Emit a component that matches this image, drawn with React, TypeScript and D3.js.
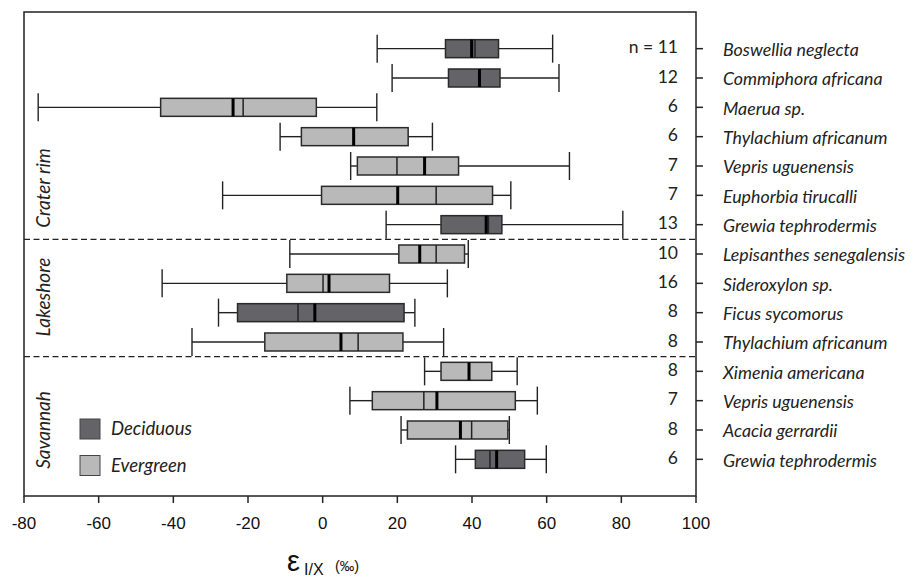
import React from "react";
import * as d3 from "d3";

const species = [
  "Boswellia neglecta",
  "Commiphora africana",
  "Maerua sp.",
  "Thylachium africanum",
  "Vepris uguenensis",
  "Euphorbia tirucalli",
  "Grewia tephrodermis",
  "Lepisanthes senegalensis",
  "Sideroxylon sp.",
  "Ficus sycomorus",
  "Thylachium africanum",
  "Ximenia americana",
  "Vepris uguenensis",
  "Acacia gerrardii",
  "Grewia tephrodermis",
];
const nLabels = ["n = 11", "12", "6", "6", "7", "7", "13", "10", "16", "8", "8", "8", "7", "8", "6"];
const habit = ["D", "D", "E", "E", "E", "E", "D", "E", "E", "D", "E", "E", "E", "E", "D"];
const whiskerLow = [14.6, 18.6, -76.2, -11.4, 7.5, -26.8, 17.0, -8.8, -43.0, -27.9, -35.0, 27.3, 7.3, 21.0, 35.6];
const q1 = [32.9, 33.7, -43.4, -5.7, 9.3, -0.3, 31.7, 20.4, -9.6, -22.8, -15.5, 31.7, 13.3, 22.7, 40.9];
const median = [39.9, 42.0, -24.0, 8.3, 27.3, 20.1, 43.8, 26.0, 1.7, -2.1, 4.9, 39.2, 30.6, 36.9, 46.6];
const mean = [40.8, 42.0, -21.3, 8.3, 19.9, 30.4, 44.4, 30.4, 0.1, -6.6, 9.5, 39.2, 27.1, 39.9, 44.8];
const q3 = [47.1, 47.5, -1.7, 22.9, 36.4, 45.5, 48.0, 38.0, 17.9, 21.8, 21.5, 45.3, 51.6, 49.6, 54.1];
const whiskerHigh = [61.6, 63.3, 14.5, 29.4, 66.1, 50.4, 80.4, 39.0, 33.4, 24.7, 32.4, 52.1, 57.5, 50.0, 59.9];
const groupNames = ["Crater rim", "Lakeshore", "Savannah"];
const groupSizes = [7, 4, 4];
const xTicks = [-80, -60, -40, -20, 0, 20, 40, 60, 80, 100];
const legendItems = [
  { key: "D", label: "Deciduous" },
  { key: "E", label: "Evergreen" },
];

const COLORS: Record<string, string> = { D: "#646468", E: "#b9b9b9" };
const LABEL_FONT = "Lato, 'Open Sans', sans-serif";
const AXIS_FONT = "'Liberation Sans', Arial, sans-serif";

export default function App() {
  const left = 24, right = 696, top = 12, bottom = 496;
  const x = d3.scaleLinear().domain([-80, 100]).range([left, right]);
  const y = d3
    .scaleBand<number>()
    .domain(species.map((_, i) => i))
    .range([34, 474])
    .padding(0);
  const bw = y.bandwidth();
  const cy = (i: number) => (y(i) as number) + bw / 2;
  const boxH = 18;
  const capH = 28;

  const boundaries: number[] = [];
  let acc = 0;
  groupSizes.forEach((s, gi) => {
    acc += s;
    if (gi < groupSizes.length - 1) boundaries.push(acc);
  });
  const groupLabelY = [188, 297, 430];

  return (
    <div style={{ position: "absolute", left: 0, top: 0 }}>
      <svg width={915} height={578} style={{ display: "block", background: "#fff" }}>
        {boundaries.map((b) => (
          <line
            key={b}
            x1={left}
            x2={right}
            y1={y(b) as number}
            y2={y(b) as number}
            stroke="#222"
            strokeWidth={1.3}
            strokeDasharray="6,3.5"
          />
        ))}
        {species.map((s, i) => {
          const c = cy(i);
          return (
            <g key={i}>
              <line x1={x(whiskerLow[i])} x2={x(q1[i])} y1={c} y2={c} stroke="#222" strokeWidth={1.4} />
              <line x1={x(q3[i])} x2={x(whiskerHigh[i])} y1={c} y2={c} stroke="#222" strokeWidth={1.4} />
              <line x1={x(whiskerLow[i])} x2={x(whiskerLow[i])} y1={c - capH / 2} y2={c + capH / 2} stroke="#222" strokeWidth={1.4} />
              <line x1={x(whiskerHigh[i])} x2={x(whiskerHigh[i])} y1={c - capH / 2} y2={c + capH / 2} stroke="#222" strokeWidth={1.4} />
              <rect
                x={x(q1[i])}
                y={c - boxH / 2}
                width={x(q3[i]) - x(q1[i])}
                height={boxH}
                fill={COLORS[habit[i]]}
                stroke="#2a2a2a"
                strokeWidth={1.5}
              />
              <line x1={x(mean[i])} x2={x(mean[i])} y1={c - boxH / 2} y2={c + boxH / 2} stroke="#222" strokeWidth={1.5} />
              <line x1={x(median[i])} x2={x(median[i])} y1={c - boxH / 2} y2={c + boxH / 2} stroke="#000" strokeWidth={3} />
              <text
                x={678}
                y={c + 4.8}
                textAnchor="end"
                fontFamily={LABEL_FONT}
                fontSize={17.5}
                fill="#222"
              >
                {nLabels[i]}
              </text>
              <line x1={right} x2={right + 7} y1={c} y2={c} stroke="#222" strokeWidth={1.5} />
              <text
                x={723}
                y={c + 7.2}
                fontFamily={LABEL_FONT}
                fontStyle="italic"
                fontSize={17.8}
                fill="#222"
              >
                {s}
              </text>
            </g>
          );
        })}
        <rect x={left} y={top} width={right - left} height={bottom - top} fill="none" stroke="#222" strokeWidth={1.5} />
        {groupNames.map((g, gi) => (
          <text
            key={g}
            transform={`translate(50,${groupLabelY[gi]}) rotate(-90)`}
            textAnchor="middle"
            fontFamily={LABEL_FONT}
            fontStyle="italic"
            fontSize={19}
            fill="#222"
          >
            {g}
          </text>
        ))}
        {legendItems.map((it, li) => (
          <g key={it.key} transform={`translate(80,${419 + li * 36.5})`}>
            <rect x={0} y={0} width={20} height={20} fill={COLORS[it.key]} stroke="#444" strokeWidth={1} />
            <text x={31} y={16} fontFamily={LABEL_FONT} fontStyle="italic" fontSize={18.5} fill="#222">
              {it.label}
            </text>
          </g>
        ))}
        {xTicks.map((t) => (
          <g key={t}>
            <line x1={x(t)} x2={x(t)} y1={bottom} y2={bottom + 7} stroke="#222" strokeWidth={1.5} />
            <text x={x(t)} y={529} textAnchor="middle" fontFamily={AXIS_FONT} fontSize={17} fill="#111">
              {t}
            </text>
          </g>
        ))}
        <text x={287} y={571} fontFamily={AXIS_FONT} fontSize={29} fill="#111">
          ε
        </text>
        <text x={304} y={574.5} fontFamily={AXIS_FONT} fontSize={16} fill="#111">
          I/X
        </text>
        <text x={335} y={571} fontFamily={AXIS_FONT} fontSize={14.5} fill="#111">
          (‰)
        </text>
      </svg>
    </div>
  );
}
